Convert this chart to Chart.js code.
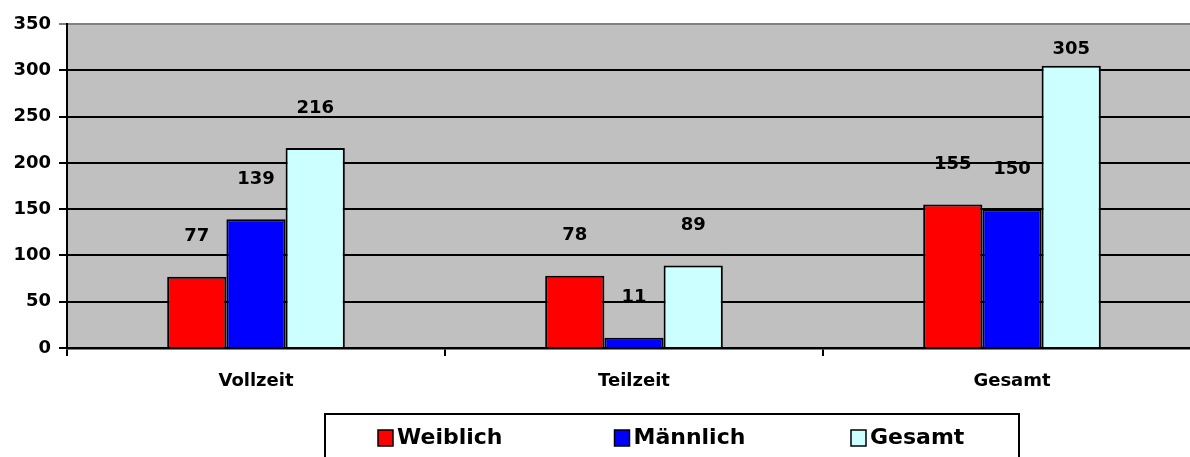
<!DOCTYPE html>
<html>
<head>
<meta charset="utf-8">
<script src="https://cdn.jsdelivr.net/npm/chart.js@4.4.1/dist/chart.umd.min.js"></script>
<style>
  html, body { margin: 0; padding: 0; background: #ffffff; overflow: hidden; }
  #wrap { position: relative; width: 1202px; height: 457px; }
</style>
</head>
<body>
<div id="wrap"><canvas id="c"></canvas></div>
<script>
// ---- data ----
const categories = ['Vollzeit', 'Teilzeit', 'Gesamt'];
const weiblich = [77, 78, 155];
const maennlich = [139, 11, 150];
const gesamt = [216, 89, 305];
const seriesNames = ['Weiblich', 'Männlich', 'Gesamt'];
const yTicks = [0, 50, 100, 150, 200, 250, 300, 350];

const FONT = "'DejaVu Sans', 'Liberation Sans', Arial, sans-serif";

const bgPlugin = {
  id: 'bg',
  beforeDraw(chart) {
    const ctx = chart.ctx;
    const a = chart.chartArea;
    ctx.save();
    ctx.fillStyle = '#C0C0C0';
    ctx.fillRect(a.left, a.top, a.right - a.left, a.bottom - a.top);
    ctx.restore();
  }
};

const labelPlugin = {
  id: 'valueLabels',
  afterDatasetsDraw(chart) {
    const ctx = chart.ctx;
    const a = chart.chartArea;
    ctx.save();
    ctx.font = 'bold 18px ' + FONT;
    ctx.fillStyle = '#000000';
    ctx.textAlign = 'center';
    ctx.textBaseline = 'middle';
    chart.data.datasets.forEach((ds, di) => {
      const meta = chart.getDatasetMeta(di);
      meta.data.forEach((bar, i) => {
        const y = Math.max(bar.y - 40, a.top + 25);
        ctx.fillText(String(ds.data[i]), bar.x, y);
      });
    });
    ctx.restore();
  }
};

const legendPlugin = {
  id: 'boxLegend',
  afterDraw(chart) {
    const ctx = chart.ctx;
    ctx.save();
    const boxLeft = 325, boxTop = 414, boxW = 694, boxH = 60;
    ctx.strokeStyle = '#000000';
    ctx.lineWidth = 2;
    ctx.strokeRect(boxLeft, boxTop, boxW, boxH);
    ctx.font = 'bold 22px ' + FONT;
    ctx.textBaseline = 'middle';
    ctx.textAlign = 'left';
    chart.data.datasets.forEach((ds, i) => {
      const x = boxLeft + 53 + i * 236.5;
      const y = 438;
      ctx.fillStyle = ds.backgroundColor;
      ctx.fillRect(x, y - 8, 15, 16);
      ctx.lineWidth = 1.5;
      ctx.strokeStyle = '#000000';
      ctx.strokeRect(x, y - 8, 15, 16);
      ctx.fillStyle = '#000000';
      ctx.fillText(ds.label, x + 19, y);
    });
    ctx.restore();
  }
};

Chart.defaults.font.family = FONT;
Chart.defaults.font.weight = 'bold';
Chart.defaults.color = '#000000';

new Chart(document.getElementById('c'), {
  type: 'bar',
  data: {
    labels: categories,
    datasets: [
      { label: seriesNames[0], data: weiblich, backgroundColor: '#FF0000', borderColor: '#000000', borderWidth: 2 },
      { label: seriesNames[1], data: maennlich, backgroundColor: '#0000FF', borderColor: '#000000', borderWidth: 2 },
      { label: seriesNames[2], data: gesamt, backgroundColor: '#CCFFFF', borderColor: '#000000', borderWidth: 2 }
    ]
  },
  options: {
    responsive: true,
    maintainAspectRatio: false,
    animation: false,
    layout: { padding: { top: 24, right: 1, bottom: 60, left: 0 } },
    datasets: { bar: { categoryPercentage: 0.47, barPercentage: 1.0 } },
    plugins: {
      legend: { display: false },
      tooltip: { enabled: false }
    },
    scales: {
      x: {
        grid: {
          display: true,
          drawOnChartArea: false,
          drawTicks: true,
          tickLength: 8,
          color: '#000000',
          lineWidth: 2,
          offset: true
        },
        border: { display: true, color: '#000000', width: 2.5 },
        ticks: { font: { size: 18, weight: 'bold' }, color: '#000000', padding: 15 },
        afterFit(scale) { scale.height = 49; }
      },
      y: {
        min: 0,
        max: 350,
        afterBuildTicks(scale) { scale.ticks = yTicks.map(v => ({ value: v })); },
        grid: {
          color: ctx => (ctx.tick && ctx.tick.value === 350 ? '#808080' : '#000000'),
          lineWidth: 2,
          tickLength: 8,
          drawTicks: true
        },
        border: { display: true, color: '#000000', width: 2 },
        ticks: { font: { size: 18, weight: 'bold' }, color: '#000000', padding: 8 },
        afterFit(scale) { scale.width = 67; }
      }
    }
  },
  plugins: [bgPlugin, labelPlugin, legendPlugin]
});
</script>
</body>
</html>
